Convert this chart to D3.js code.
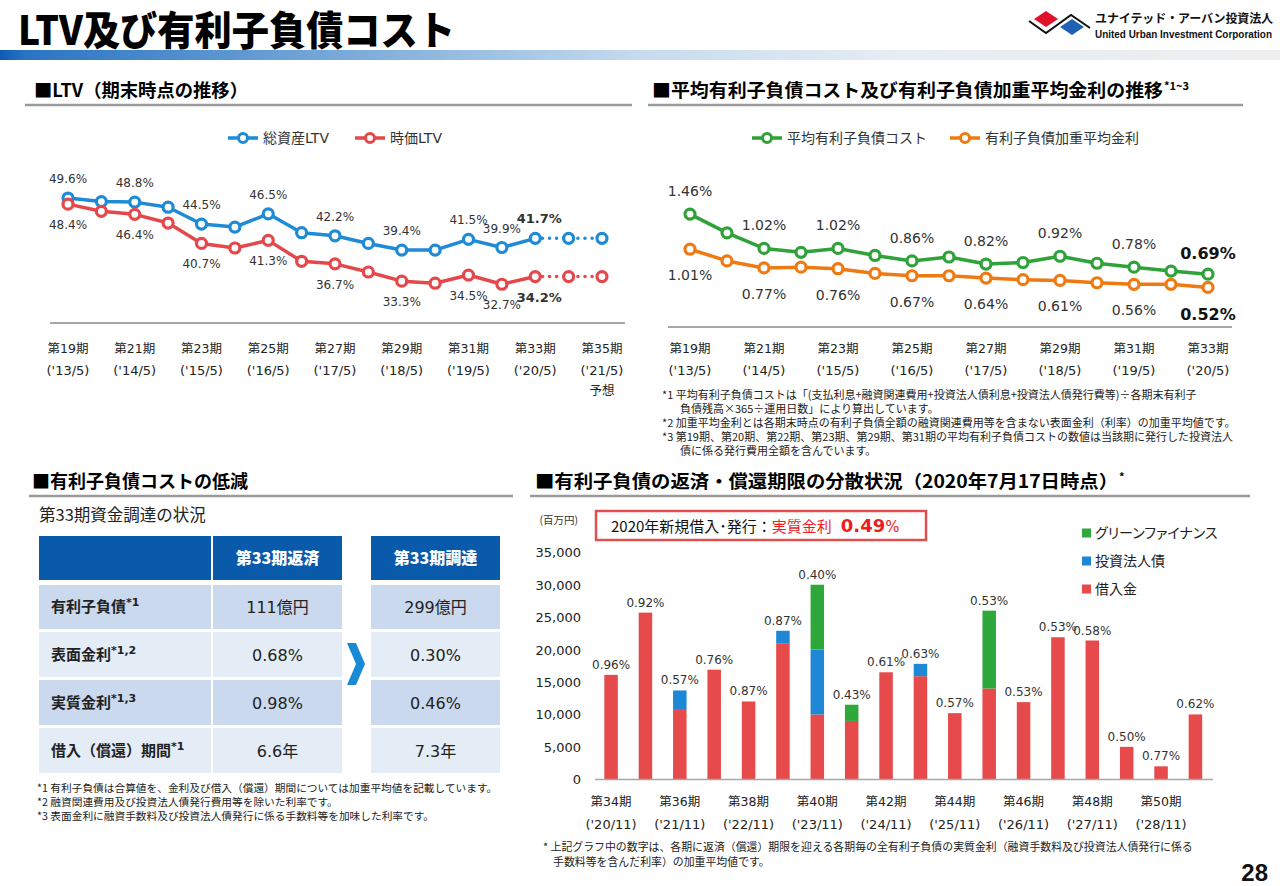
<!DOCTYPE html>
<html><head><meta charset="utf-8">
<script src="https://cdn.jsdelivr.net/npm/d3@7"></script>
<style>body{margin:0;background:#fff}svg{display:block}</style>
</head><body>
<svg id="c" width="1280" height="886"></svg>
<script>
// ---------- DATA ----------
const ltvPeriods = [19,20,21,22,23,24,25,26,27,28,29,30,31,32,33,34,35];
const ltvDates = {19:"('13/5)",21:"('14/5)",23:"('15/5)",25:"('16/5)",27:"('17/5)",29:"('18/5)",31:"('19/5)",33:"('20/5)",35:"('21/5)"};
const ltvTotal  = [49.6,48.9,48.8,47.8,44.5,43.9,46.5,42.8,42.2,40.7,39.4,39.4,41.5,39.9,41.7,41.7,41.7];
const ltvMarket = [48.4,47.0,46.4,44.7,40.7,39.8,41.3,37.2,36.7,35.1,33.3,32.9,34.5,32.7,34.2,34.2,34.2];
const ltvLabelPeriods = [19,21,23,25,27,29,31,32,33];
const ltvLastActual = 33;

const costPeriods = [19,20,21,22,23,24,25,26,27,28,29,30,31,32,33];
const costDates = {19:"('13/5)",21:"('14/5)",23:"('15/5)",25:"('16/5)",27:"('17/5)",29:"('18/5)",31:"('19/5)",33:"('20/5)"};
const avgDebtCost = [1.46,1.22,1.02,0.97,1.02,0.93,0.86,0.91,0.82,0.84,0.92,0.83,0.78,0.73,0.69];
const avgRate     = [1.01,0.86,0.77,0.78,0.76,0.70,0.67,0.67,0.64,0.62,0.61,0.58,0.56,0.56,0.52];
const costLabelPeriods = [19,21,23,25,27,29,31,33];

const matPeriods = [34,35,36,37,38,39,40,41,42,43,44,45,46,47,48,49,50,51];
const matDates = {34:"('20/11)",36:"('21/11)",38:"('22/11)",40:"('23/11)",42:"('24/11)",44:"('25/11)",46:"('26/11)",48:"('27/11)",50:"('28/11)"};
const loans = [16100,25700,10700,16900,12000,20900,10000,9000,16500,15900,10200,14000,11900,21900,21400,5000,2000,10000];
const bonds = [0,0,3000,0,0,2000,10000,0,0,1900,0,0,0,0,0,0,0,0];
const greenFin = [0,0,0,0,0,0,10000,2500,0,0,0,12000,0,0,0,0,0,0];
const matRates = ["0.96%","0.92%","0.57%","0.76%","0.87%","0.87%","0.40%","0.43%","0.61%","0.63%","0.57%","0.53%","0.53%","0.53%","0.58%","0.50%","0.77%","0.62%"];
const matTicks = [0,5000,10000,15000,20000,25000,30000,35000];

const tableCols = ["第33期返済","第33期調達"];
const tableRows = [
  {label:"有利子負債", note:"*1", repay:"111億円", raise:"299億円"},
  {label:"表面金利", note:"*1,2", repay:"0.68%", raise:"0.30%"},
  {label:"実質金利", note:"*1,3", repay:"0.98%", raise:"0.46%"},
  {label:"借入（償還）期間", note:"*1", repay:"6.6年", raise:"7.3年"}
];

// ---------- SETUP ----------
const FONT = "'DejaVu Sans','Noto Sans CJK JP',sans-serif";
const JP = "'Noto Sans CJK JP','DejaVu Sans',sans-serif";
const C = {blue:"#1f8ad6", red:"#e5484b", green:"#2fa23a", orange:"#f07a12",
  barRed:"#e64a4a", barBlue:"#1e88d6", barGreen:"#2ea83a", text:"#333", head:"#0a5aab"};
const svg = d3.select("#c");
const defs = svg.append("defs");
const grad = defs.append("linearGradient").attr("id","hg").attr("x1","0").attr("x2","1").attr("y1","0").attr("y2","0");
[[0,"#0d5cb3"],[0.02,"#2a74c2"],[0.25,"#73a6d8"],[0.5,"#c6dbee"],[0.7,"#e6edf4"],[1,"#eeeeee"]]
  .forEach(([o,c])=>grad.append("stop").attr("offset",o).attr("stop-color",c));

// ---------- HEADER ----------
svg.append("text").attr("x",18).attr("y",45).attr("font-family",JP).attr("font-weight",900)
  .attr("font-size",40).attr("fill","#000").attr("textLength",437).attr("lengthAdjust","spacingAndGlyphs")
  .text("LTV及び有利子負債コスト");
svg.append("rect").attr("x",0).attr("y",50).attr("width",1280).attr("height",10).attr("fill","url(#hg)");
// logo
svg.append("polygon").attr("points","1034,19 1046,11 1058,19 1046,27").attr("fill","#e0112b");
svg.append("polygon").attr("points","1060,27 1072,19 1084,27 1072,35").attr("fill","#1f62b3");
svg.append("polyline").attr("points","1029,21 1046,33 1071,15 1090,28").attr("fill","none").attr("stroke","#111").attr("stroke-width",2);
svg.append("text").attr("x",1095).attr("y",23).attr("font-family",JP).attr("font-weight",700).attr("font-size",12)
  .attr("fill","#111").attr("letter-spacing",-0.1).text("ユナイテッド・アーバン投資法人");
svg.append("text").attr("x",1095).attr("y",38).attr("font-family","'Liberation Sans',Arial,sans-serif").attr("font-weight",700).attr("font-size",10)
  .attr("fill","#111").attr("textLength",177).attr("lengthAdjust","spacingAndGlyphs").text("United Urban Investment Corporation");

function sectionHeader(x, y, x1, x2, main, width, sup){
  svg.append("text").attr("x",x).attr("y",y).attr("font-family",JP).attr("font-weight",700)
    .attr("font-size",18).attr("fill","#000").attr("textLength",width).attr("lengthAdjust","spacingAndGlyphs").text(main);
  if(sup) svg.append("text").attr("x",x+width+1).attr("y",y-7).attr("font-family",JP).attr("font-weight",700)
    .attr("font-size",11).attr("fill","#000").text(sup);
  svg.append("line").attr("x1",x1).attr("x2",x2).attr("y1",y+8).attr("y2",y+8).attr("stroke","#9a9a9a").attr("stroke-width",2.5);
}
sectionHeader(34,97,25,632,"■LTV（期末時点の推移）",214);
sectionHeader(652,97,648,1243,"■平均有利子負債コスト及び有利子負債加重平均金利の推移",511,"*1~3");
sectionHeader(32,488,29,513,"■有利子負債コストの低減",216);
sectionHeader(535,488,530,1250,"■有利子負債の返済・償還期限の分散状況（2020年7月17日時点）",583,"*");

// ---------- helper for line charts ----------
function lineSeries(g, x, y, periods, vals, color, solidEnd){
  const pts = periods.map((p,i)=>({p, v:vals[i]}));
  const line = d3.line().x(d=>x(d.p)).y(d=>y(d.v));
  const solid = pts.filter(d=>d.p<=solidEnd), dotted = pts.filter(d=>d.p>=solidEnd);
  g.append("path").attr("d",line(solid)).attr("fill","none").attr("stroke",color).attr("stroke-width",3.5).attr("stroke-linejoin","round");
  if(dotted.length>1) g.append("path").attr("d",line(dotted)).attr("fill","none").attr("stroke",color)
    .attr("stroke-width",3.5).attr("stroke-linecap","round").attr("stroke-dasharray","0.1,7");
  g.selectAll(null).data(pts).join("circle").attr("cx",d=>x(d.p)).attr("cy",d=>y(d.v)).attr("r",5)
    .attr("fill","#fff").attr("stroke",color).attr("stroke-width",3.2);
  return pts;
}
function legendItem(x, y, color, label){
  svg.append("line").attr("x1",x).attr("x2",x+30).attr("y1",y).attr("y2",y).attr("stroke",color).attr("stroke-width",3.5);
  svg.append("circle").attr("cx",x+15).attr("cy",y).attr("r",4.5).attr("fill","#fff").attr("stroke",color).attr("stroke-width",3);
  svg.append("text").attr("x",x+35).attr("y",y+5).attr("font-family",FONT).attr("font-size",14).attr("fill",C.text).text(label);
}

// ---------- LTV CHART ----------
const xL = d3.scalePoint().domain(ltvPeriods).range([68,602]);
const yL = d3.scaleLinear().domain([25,55]).range([323.5,170.5]);
const gL = svg.append("g");
legendItem(228,138,C.blue,"総資産LTV");
legendItem(355,138,C.red,"時価LTV");
gL.append("line").attr("x1",50).attr("x2",625).attr("y1",323).attr("y2",323).attr("stroke","#a6a6a6").attr("stroke-width",2);
const ptsT = lineSeries(gL,xL,yL,ltvPeriods,ltvTotal,C.blue,ltvLastActual);
const ptsM = lineSeries(gL,xL,yL,ltvPeriods,ltvMarket,C.red,ltvLastActual);
gL.selectAll(null).data(ptsT.filter(d=>ltvLabelPeriods.includes(d.p))).join("text")
  .attr("x",d=>xL(d.p)+(d.p===ltvLastActual?4:0)).attr("y",d=>yL(d.v)-15).attr("text-anchor","middle")
  .attr("font-family",FONT).attr("font-size",d=>d.p===ltvLastActual?13:12).attr("font-weight",d=>d.p===ltvLastActual?700:400)
  .attr("fill",C.text).text(d=>d.v.toFixed(1)+"%");
gL.selectAll(null).data(ptsM.filter(d=>ltvLabelPeriods.includes(d.p))).join("text")
  .attr("x",d=>xL(d.p)+(d.p===ltvLastActual?4:0)).attr("y",d=>yL(d.v)+25).attr("text-anchor","middle")
  .attr("font-family",FONT).attr("font-size",d=>d.p===ltvLastActual?13:12).attr("font-weight",d=>d.p===ltvLastActual?700:400)
  .attr("fill",C.text).text(d=>d.v.toFixed(1)+"%");
const ltvAx = gL.selectAll(null).data(Object.keys(ltvDates).map(Number)).join("g");
ltvAx.append("text").attr("x",d=>xL(d)).attr("y",353).attr("text-anchor","middle").attr("font-family",FONT)
  .attr("font-size",12.5).attr("fill","#222").text(d=>"第"+d+"期");
ltvAx.append("text").attr("x",d=>xL(d)).attr("y",375).attr("text-anchor","middle").attr("font-family",FONT)
  .attr("font-size",13).attr("fill","#222").text(d=>ltvDates[d]);
gL.append("text").attr("x",xL(35)).attr("y",395).attr("text-anchor","middle").attr("font-family",JP)
  .attr("font-size",12.5).attr("fill","#222").text("予想");

// ---------- COST CHART ----------
const xC = d3.scalePoint().domain(costPeriods).range([690,1208]);
const yC = d3.scaleLinear().domain([0,2]).range([328,172]);
const gC = svg.append("g");
legendItem(752,138,C.green,"平均有利子負債コスト");
legendItem(950,138,C.orange,"有利子負債加重平均金利");
gC.append("line").attr("x1",668).attr("x2",1232).attr("y1",327).attr("y2",327).attr("stroke","#a6a6a6").attr("stroke-width",2);
const lastC = costPeriods[costPeriods.length-1];
const ptsG = lineSeries(gC,xC,yC,costPeriods,avgDebtCost,C.green,lastC);
const ptsO = lineSeries(gC,xC,yC,costPeriods,avgRate,C.orange,lastC);
gC.selectAll(null).data(ptsG.filter(d=>costLabelPeriods.includes(d.p))).join("text")
  .attr("x",d=>xC(d.p)).attr("y",d=>yC(d.v)-(d.p===lastC?15:18)).attr("text-anchor","middle")
  .attr("font-family",FONT).attr("font-size",d=>d.p===lastC?16:14).attr("font-weight",d=>d.p===lastC?700:400)
  .attr("fill",d=>d.p===lastC?"#111":C.text).text(d=>d.v.toFixed(2)+"%");
gC.selectAll(null).data(ptsO.filter(d=>costLabelPeriods.includes(d.p))).join("text")
  .attr("x",d=>xC(d.p)).attr("y",d=>yC(d.v)+(d.p===lastC?33:31)).attr("text-anchor","middle")
  .attr("font-family",FONT).attr("font-size",d=>d.p===lastC?16:14).attr("font-weight",d=>d.p===lastC?700:400)
  .attr("fill",d=>d.p===lastC?"#111":C.text).text(d=>d.v.toFixed(2)+"%");
const costAx = gC.selectAll(null).data(Object.keys(costDates).map(Number)).join("g");
costAx.append("text").attr("x",d=>xC(d)).attr("y",353).attr("text-anchor","middle").attr("font-family",FONT)
  .attr("font-size",12.5).attr("fill","#222").text(d=>"第"+d+"期");
costAx.append("text").attr("x",d=>xC(d)).attr("y",375).attr("text-anchor","middle").attr("font-family",FONT)
  .attr("font-size",13).attr("fill","#222").text(d=>costDates[d]);
const costNotes = [
  [662,"*1 平均有利子負債コストは「(支払利息+融資関連費用+投資法人債利息+投資法人債発行費等)÷各期末有利子"],
  [680,"負債残高×365÷運用日数」により算出しています。"],
  [662,"*2 加重平均金利とは各期末時点の有利子負債全額の融資関連費用等を含まない表面金利（利率）の加重平均値です。"],
  [662,"*3 第19期、第20期、第22期、第23期、第29期、第31期の平均有利子負債コストの数値は当該期に発行した投資法人"],
  [680,"債に係る発行費用全額を含んでいます。"]
];
svg.selectAll(null).data(costNotes).join("text").attr("x",d=>d[0]).attr("y",(d,i)=>399+i*14)
  .attr("font-family",JP).attr("font-size",11).attr("fill","#222").text(d=>d[1]);

// ---------- TABLE ----------
svg.append("text").attr("x",39).attr("y",521).attr("font-family",JP).attr("font-size",16.5).attr("fill","#222").text("第33期資金調達の状況");
const colX = [[39,211],[213,342],[371,500]];
const rowY = [[585,629],[632,677],[680,725],[728,773]];
svg.append("rect").attr("x",39).attr("y",536).attr("width",172).attr("height",44).attr("fill",C.head);
tableCols.forEach((t,i)=>{
  const [a,b]=colX[i+1];
  svg.append("rect").attr("x",a).attr("y",536).attr("width",b-a).attr("height",44).attr("fill",C.head);
  svg.append("text").attr("x",(a+b)/2).attr("y",564).attr("text-anchor","middle").attr("font-family",JP)
    .attr("font-weight",900).attr("font-size",16).attr("fill","#fff").text(t);
});
tableRows.forEach((r,i)=>{
  const [t,b]=rowY[i];
  const fill = i%2===0?"#cad9ee":"#e4ecf6";
  colX.forEach(([a,c])=>svg.append("rect").attr("x",a).attr("y",t).attr("width",c-a).attr("height",b-t).attr("fill",fill));
  const cy=(t+b)/2;
  const lt = svg.append("text").attr("x",51).attr("y",cy+5).attr("font-family",JP).attr("font-weight",700)
    .attr("font-size",15).attr("fill","#222");
  lt.append("tspan").text(r.label);
  lt.append("tspan").attr("font-size",11).attr("dy",-6).attr("font-family",FONT).text(r.note);
  [r.repay,r.raise].forEach((v,j)=>{
    const [a,c]=colX[j+1];
    svg.append("text").attr("x",(a+c)/2).attr("y",cy+6).attr("text-anchor","middle").attr("font-family",FONT)
      .attr("font-size",16).attr("fill","#222").text(v);
  });
});
svg.append("polygon").attr("points","347,643 356,643 365,664 356,685 347,685 356,664").attr("fill","#1a8ad6");
const tableNotes = ["*1 有利子負債は合算値を、金利及び借入（償還）期間については加重平均値を記載しています。",
  "*2 融資関連費用及び投資法人債発行費用等を除いた利率です。",
  "*3 表面金利に融資手数料及び投資法人債発行に係る手数料等を加味した利率です。"];
svg.selectAll(null).data(tableNotes).join("text").attr("x",37).attr("y",(d,i)=>792+i*14)
  .attr("font-family",JP).attr("font-size",10.7).attr("fill","#222").text(d=>d);

// ---------- MATURITY BAR CHART ----------
const xB = d3.scaleBand().domain(matPeriods).range([594,1212.5]).paddingInner(0.607).paddingOuter(0.3);
const yB = d3.scaleLinear().domain([0,35000]).range([779.3,552.3]);
const gB = svg.append("g");
const stackData = matPeriods.map((p,i)=>({p, loans:loans[i], bonds:bonds[i], green:greenFin[i], rate:matRates[i]}));
const stacked = d3.stack().keys(["loans","bonds","green"])(stackData);
const barColors = {loans:C.barRed, bonds:C.barBlue, green:C.barGreen};
gB.selectAll("g.s").data(stacked).join("g").attr("fill",s=>barColors[s.key])
  .selectAll("rect").data(s=>s.filter(d=>d[1]>d[0])).join("rect")
  .attr("x",d=>xB(d.data.p)).attr("width",xB.bandwidth()).attr("y",d=>yB(d[1])).attr("height",d=>yB(d[0])-yB(d[1]));
gB.append("line").attr("x1",595).attr("x2",1213).attr("y1",779.5).attr("y2",779.5).attr("stroke","#a6a6a6").attr("stroke-width",1.5);
gB.selectAll(null).data(stackData).join("text").attr("x",d=>xB(d.p)+xB.bandwidth()/2)
  .attr("y",d=>yB(d.loans+d.bonds+d.green)-6).attr("text-anchor","middle").attr("font-family",FONT)
  .attr("font-size",12).attr("fill",C.text).text(d=>d.rate);
gB.selectAll(null).data(matTicks).join("text").attr("x",581).attr("y",d=>yB(d)+5).attr("text-anchor","end")
  .attr("font-family",FONT).attr("font-size",13).attr("fill","#222").text(d=>d3.format(",")(d));
gB.append("text").attr("x",578).attr("y",524).attr("text-anchor","end").attr("font-family",JP).attr("font-size",10.5)
  .attr("fill","#333").text("(百万円)");
const matAx = gB.selectAll(null).data(Object.keys(matDates).map(Number)).join("g");
matAx.append("text").attr("x",d=>xB(d)+xB.bandwidth()/2).attr("y",806).attr("text-anchor","middle").attr("font-family",FONT)
  .attr("font-size",12.5).attr("fill","#222").text(d=>"第"+d+"期");
matAx.append("text").attr("x",d=>xB(d)+xB.bandwidth()/2).attr("y",829).attr("text-anchor","middle").attr("font-family",FONT)
  .attr("font-size",13).attr("fill","#222").text(d=>matDates[d]);
// highlight box
gB.append("rect").attr("x",596).attr("y",511).attr("width",330).attr("height",29).attr("fill","#fff")
  .attr("stroke","#e05050").attr("stroke-width",2.5);
const bt = gB.append("text").attr("x",611).attr("y",532).attr("font-family",JP).attr("font-size",15).attr("fill","#111");
bt.append("tspan").text("2020年新規借入･発行：");
bt.append("tspan").attr("fill","#ee1c1c").text("実質金利");
bt.append("tspan").attr("fill","#ee1c1c").attr("font-weight",700).attr("font-family",FONT).attr("font-size",18).attr("dx",9).text("0.49");
bt.append("tspan").attr("fill","#ee1c1c").attr("font-family",FONT).attr("font-size",15).text("%");
// legend
[["green","グリーンファイナンス"],["bonds","投資法人債"],["loans","借入金"]].forEach(([k,l],i)=>{
  const y = 533+i*28;
  gB.append("rect").attr("x",1082).attr("y",y-4.5).attr("width",9).attr("height",9).attr("fill",barColors[k]);
  gB.append("text").attr("x",1095).attr("y",y+5).attr("font-family",JP).attr("font-size",14)
    .style("font-feature-settings","'palt'").attr("fill","#222").text(l);
});
svg.append("text").attr("x",543).attr("y",851).attr("font-family",JP).attr("font-size",10.9).attr("fill","#222")
  .text("* 上記グラフ中の数字は、各期に返済（償還）期限を迎える各期毎の全有利子負債の実質金利（融資手数料及び投資法人債発行に係る");
svg.append("text").attr("x",553).attr("y",866).attr("font-family",JP).attr("font-size",10.9).attr("fill","#222")
  .text("手数料等を含んだ利率）の加重平均値です。");
svg.append("text").attr("x",1268).attr("y",881).attr("text-anchor","end").attr("font-family","'Liberation Sans',Arial,sans-serif")
  .attr("font-weight",700).attr("font-size",24).attr("fill","#111").text("28");
</script>
</body></html>
